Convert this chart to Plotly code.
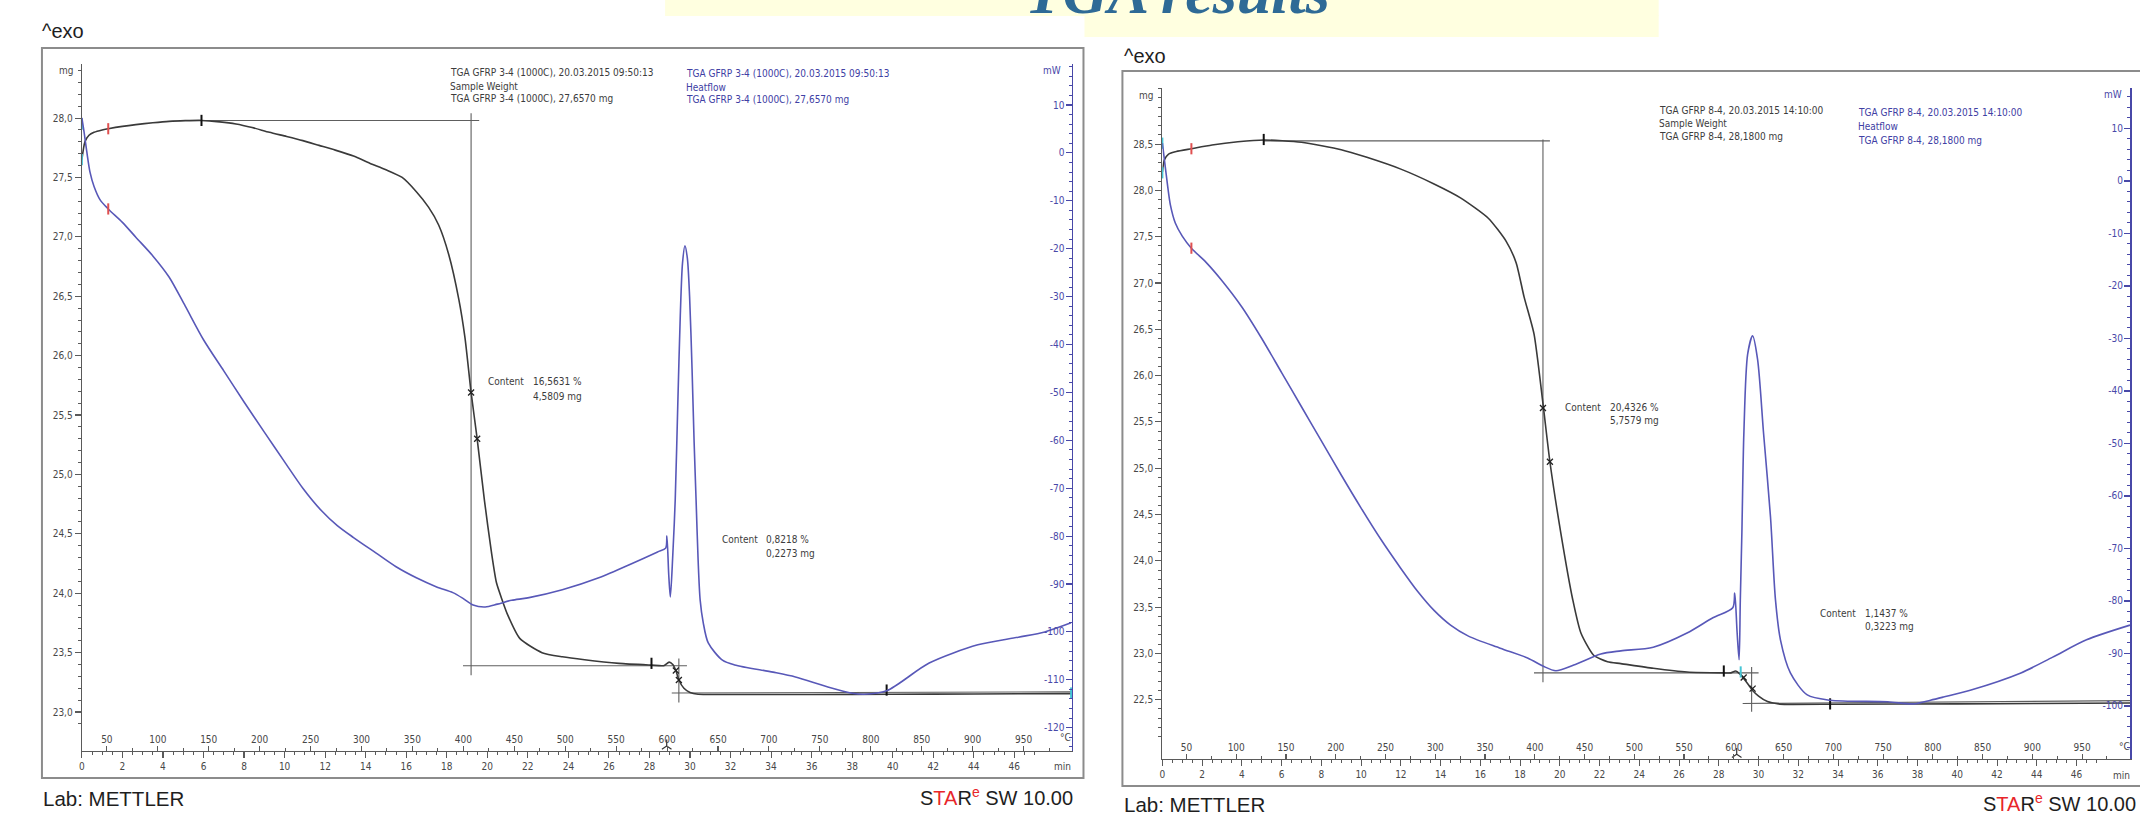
import plotly.graph_objects as go

W, H = 2140, 815
FONT = "DejaVu Sans Condensed, Liberation Sans Narrow, DejaVu Sans, sans-serif"
ARIAL = "Liberation Sans, Arial, sans-serif"
SERIF = "Liberation Serif, Times New Roman, serif"

# ------------------------------------------------------------------ data
time_ticks = [0, 2, 4, 6, 8, 10, 12, 14, 16, 18, 20, 22, 24, 26, 28, 30, 32, 34, 36, 38, 40, 42, 44, 46]
temp_ticks = [50, 100, 150, 200, 250, 300, 350, 400, 450, 500, 550, 600, 650, 700, 750, 800, 850, 900, 950]

# Panel A : TGA GFRP 3-4 (1000C)
a_tga_t = [0.0, 0.15, 0.35, 0.6, 1.0, 1.3, 2.0, 2.66, 3.5, 4.3, 5.1, 5.9, 6.8, 7.6, 8.4, 9.25, 10.1, 10.9,
           11.7, 12.5, 13.4, 14.2, 15.0, 15.8, 16.5, 17.1, 17.6, 18.1, 18.6, 18.9, 19.2, 19.5, 19.86, 20.2,
           20.45, 20.74, 21.0, 21.6, 22.7, 23.7, 24.8, 26.5, 28.1, 28.7, 28.97, 29.15, 29.3, 29.45, 29.7,
           30.0, 30.4, 32.0, 36.0, 40.0, 44.0, 48.8]
a_tga_mg = [27.65, 27.80, 27.855, 27.88, 27.90, 27.91, 27.93, 27.945, 27.96, 27.972, 27.978, 27.98, 27.968,
            27.95, 27.92, 27.88, 27.845, 27.81, 27.77, 27.73, 27.68, 27.62, 27.565, 27.50, 27.38, 27.25,
            27.10, 26.85, 26.47, 26.15, 25.69, 25.30, 24.78, 24.35, 24.09, 23.94, 23.82, 23.62, 23.50,
            23.465, 23.44, 23.41, 23.395, 23.39, 23.42, 23.40, 23.35, 23.27, 23.20, 23.165, 23.15, 23.148,
            23.148, 23.15, 23.152, 23.155]
a_hf_t = [0.0, 0.12, 0.25, 0.4, 0.6, 0.9, 1.3, 2.0, 2.66, 3.5, 4.3, 5.1, 6.0, 7.0, 8.0, 9.0, 10.0, 10.9,
          11.8, 12.6, 13.4, 14.5, 15.5, 16.5, 17.5, 18.3, 18.8, 19.3, 19.9, 20.5, 21.2, 22.0, 23.7, 25.5, 27.2,
          28.4, 28.8, 28.86, 28.95, 29.03, 29.15, 29.27, 29.4, 29.52, 29.63, 29.75, 29.87, 29.98, 30.1,
          30.2, 30.3, 30.4, 30.5, 30.65, 30.9, 31.6, 32.2, 34.1, 35.2, 36.8, 38.0, 38.6, 39.7, 41.8, 44.2,
          46.2, 47.5, 48.8]
a_hf_mw = [7.3, 4.0, 0.0, -4.0, -7.0, -9.8, -11.7, -14.5, -17.6, -21.5, -25.9, -32.0, -39.0, -45.5, -52.0,
           -58.3, -64.5, -70.0, -74.6, -77.8, -80.3, -83.5, -86.4, -88.7, -90.6, -91.8, -93.0, -94.4, -94.8,
           -94.2, -93.4, -92.9, -91.2, -88.7, -85.6, -83.3, -82.5, -80.0, -88.0, -92.7, -84.0, -72.5, -52.0,
           -34.0, -23.0, -19.4, -22.0, -30.0, -45.0, -60.0, -72.5, -85.0, -93.3, -98.0, -102.3, -105.9,
           -106.9, -108.4, -109.4, -111.5, -112.8, -113.0, -112.3, -106.5, -102.7, -101.1, -100.0, -98.1]
a_mg_ticks = [23.0, 23.5, 24.0, 24.5, 25.0, 25.5, 26.0, 26.5, 27.0, 27.5, 28.0]
a_mw_ticks = [10, 0, -10, -20, -30, -40, -50, -60, -70, -80, -90, -100, -110, -120]
# evaluation construction (time in min, mass in mg)
a_cons_t = [5.9, 19.6, None, 19.2, 19.2, None, 18.8, 29.85, None, 29.45, 29.45, None, 29.1, 48.82]
a_cons_mg = [27.98, 27.98, None, 28.04, 23.31, None, 23.39, 23.39, None, 23.45, 23.08, None, 23.16, 23.17]
a_cross_t = [19.2, 19.5, 29.3, 29.45]
a_cross_mg = [25.69, 25.30, 23.35, 23.27]
a_evt_t = [5.9, 28.1, 39.7]
a_evt_mg = [27.98, 23.41, 23.185]
a_red_t = [1.3]
a_red_mg = [27.91]
a_red_mw = [-11.7]
a_cyan_t = [0.0, 0.0, 48.8]
a_cyan_mg = [27.95, 27.65, 23.16]
a_T0, a_rate = 25.5, 19.9
a_content = [("Content", "16,5631 %", "4,5809 mg"), ("Content", "0,8218 %", "0,2273 mg")]
a_legend_k = ["TGA GFRP 3-4 (1000C), 20.03.2015 09:50:13", "Sample Weight", "TGA GFRP 3-4 (1000C), 27,6570 mg"]
a_legend_b = ["TGA GFRP 3-4 (1000C), 20.03.2015 09:50:13", "Heatflow", "TGA GFRP 3-4 (1000C), 27,6570 mg"]

# Panel B : TGA GFRP 8-4
b_tga_t = [0.0, 0.1, 0.3, 0.7, 1.46, 2.5, 3.8, 5.1, 7.0, 9.0, 10.25, 12.0, 13.67, 15.0, 16.4, 17.3, 17.8,
           18.2, 18.7, 19.15, 19.5, 20.05, 20.65, 21.06, 21.7, 22.4, 23.07, 24.7, 26.4, 28.25, 28.6, 28.85,
           29.05, 29.25, 29.5, 29.7, 30.0, 30.45, 31.0, 31.45, 34.0, 40.0, 44.0, 48.69]
b_tga_mg = [28.20, 28.33, 28.39, 28.42, 28.45, 28.49, 28.525, 28.545, 28.52, 28.44, 28.36, 28.23, 28.07,
            27.92, 27.70, 27.45, 27.22, 26.85, 26.45, 25.70, 25.07, 24.30, 23.58, 23.22, 22.98, 22.91,
            22.89, 22.84, 22.80, 22.79, 22.79, 22.81, 22.78, 22.73, 22.66, 22.60, 22.54, 22.48, 22.455,
            22.45, 22.452, 22.455, 22.46, 22.465]
b_hf_t = [0.0, 0.12, 0.25, 0.4, 0.65, 1.0, 1.46, 2.2, 3.0, 4.0, 5.0, 6.0, 7.0, 8.0, 9.0, 10.0, 11.0, 12.0,
          12.85, 13.67, 14.5, 15.4, 17.0, 18.4, 19.15, 19.8, 20.7, 22.06, 23.07, 24.7, 26.4, 27.7, 28.7, 28.8,
          28.92, 29.02, 29.08, 29.16, 29.26, 29.45, 29.7, 29.95, 30.25, 30.6, 30.85, 31.1, 31.6, 32.45,
          33.6, 36.5, 37.8, 38.65, 39.3, 40.65, 43.2, 44.8, 46.5, 48.69]
b_hf_mw = [7.2, 3.5, -0.5, -4.5, -8.0, -10.5, -12.8, -15.5, -19.0, -24.0, -30.0, -36.5, -43.0, -49.5,
           -56.0, -62.3, -68.3, -73.8, -78.2, -81.8, -84.6, -86.7, -89.0, -90.9, -92.4, -93.3, -92.2, -90.1,
           -89.5, -88.8, -86.1, -83.2, -81.3, -78.5, -86.0, -91.2, -80.0, -67.0, -48.0, -33.0, -29.5, -34.0,
           -48.0, -64.0, -79.8, -87.4, -93.7, -97.9, -98.9, -99.2, -99.6, -98.9, -98.3, -97.0, -93.7, -90.7,
           -87.4, -84.6]
b_mg_ticks = [22.0, 22.5, 23.0, 23.5, 24.0, 24.5, 25.0, 25.5, 26.0, 26.5, 27.0, 27.5, 28.0, 28.5]
b_mw_ticks = [10, 0, -10, -20, -30, -40, -50, -60, -70, -80, -90, -100, -110]
b_cons_t = [5.1, 19.5, None, 19.15, 19.15, None, 18.7, 30.0, None, 29.65, 29.65, None, 29.2, 48.69]
b_cons_mg = [28.535, 28.535, None, 28.55, 22.69, None, 22.79, 22.79, None, 22.853, 22.37, None, 22.46, 22.49]
b_cross_t = [19.15, 19.5, 29.25, 29.7]
b_cross_mg = [25.65, 25.07, 22.74, 22.62]
b_evt_t = [5.1, 28.25, 33.6]
b_evt_mg = [28.55, 22.81, 22.455]
b_red_t = [1.46]
b_red_mg = [28.45]
b_red_mw = [-12.8]
b_cyan_t = [0.0, 0.0, 29.1]
b_cyan_mg = [28.51, 28.19, 22.80]
b_T0, b_rate = 25.8, 19.97
b_content = [("Content", "20,4326 %", "5,7579 mg"), ("Content", "1,1437 %", "0,3223 mg")]
b_legend_k = ["TGA GFRP 8-4, 20.03.2015 14:10:00", "Sample Weight", "TGA GFRP 8-4, 28,1800 mg"]
b_legend_b = ["TGA GFRP 8-4, 20.03.2015 14:10:00", "Heatflow", "TGA GFRP 8-4, 28,1800 mg"]

# ------------------------------------------------------------------ style
K_CURVE = "#3a3a3a"
B_CURVE = "#5858b8"
B_AXIS = "#4848a8"
G_AXIS = "#5a5a5a"
G_TXT = "#474747"
CONS = "#5e5e5e"


def fx(px):
    return px / W


def fy(py):
    return 1 - py / H


def comma(v):
    return f"{v:.1f}".replace(".", ",")


fig = go.Figure()


def add_panel(xa, xt, ym, yw, tga_t, tga_mg, hf_t, hf_mw, cons_t, cons_mg, cross_t, cross_mg,
              evt_t, evt_mg, red_t, red_mg, red_mw, cyan_t, cyan_mg, temp_lo, temp_hi, mg_lo, psi_t):
    fig.add_trace(go.Scatter(x=[temp_lo, temp_hi], y=[mg_lo, mg_lo], mode="none", xaxis=xt, yaxis=ym,
                             hoverinfo="skip", showlegend=False))
    fig.add_trace(go.Scatter(x=cons_t, y=cons_mg, mode="lines", xaxis=xa, yaxis=ym,
                             line=dict(color=CONS, width=1.1), connectgaps=False, hoverinfo="skip"))
    fig.add_trace(go.Scatter(x=hf_t, y=hf_mw, mode="lines", xaxis=xa, yaxis=yw,
                             line=dict(color=B_CURVE, width=1.6, shape="spline", smoothing=0.8),
                             hoverinfo="skip"))
    fig.add_trace(go.Scatter(x=tga_t, y=tga_mg, mode="lines", xaxis=xa, yaxis=ym,
                             line=dict(color=K_CURVE, width=1.6, shape="spline", smoothing=0.6),
                             hoverinfo="skip"))
    fig.add_trace(go.Scatter(x=cross_t, y=cross_mg, mode="markers", xaxis=xa, yaxis=ym, cliponaxis=False,
                             marker=dict(symbol="x-thin", size=6, line=dict(color="#222", width=1.3)),
                             hoverinfo="skip"))
    fig.add_trace(go.Scatter(x=evt_t, y=evt_mg, mode="markers", xaxis=xa, yaxis=ym, cliponaxis=False,
                             marker=dict(symbol="line-ns", size=8, line=dict(color="#111", width=2)),
                             hoverinfo="skip"))
    fig.add_trace(go.Scatter(x=red_t, y=red_mg, mode="markers", xaxis=xa, yaxis=ym, cliponaxis=False,
                             marker=dict(symbol="line-ns", size=8, line=dict(color="#e05050", width=2)),
                             hoverinfo="skip"))
    fig.add_trace(go.Scatter(x=red_t, y=red_mw, mode="markers", xaxis=xa, yaxis=yw, cliponaxis=False,
                             marker=dict(symbol="line-ns", size=8, line=dict(color="#e05050", width=2)),
                             hoverinfo="skip"))
    fig.add_trace(go.Scatter(x=cyan_t, y=cyan_mg, mode="markers", xaxis=xa, yaxis=ym, cliponaxis=False,
                             marker=dict(symbol="line-ns", size=8, line=dict(color="#46c6d6", width=2)),
                             hoverinfo="skip"))
    fig.add_trace(go.Scatter(x=[psi_t], y=[mg_lo], mode="markers", xaxis=xa, yaxis=ym, cliponaxis=False,
                             marker=dict(symbol="y-up", size=8, line=dict(color="#333", width=1.2)),
                             hoverinfo="skip"))


def time_axis(dom, rng, anchor):
    return dict(domain=dom, range=rng, anchor=anchor, showgrid=False, zeroline=False, showline=True,
                linecolor=G_AXIS, linewidth=1.2, ticks="outside", ticklen=6, tickwidth=1.1, tickcolor=G_AXIS,
                tickmode="array", tickvals=time_ticks, ticktext=[str(v) for v in time_ticks],
                tickfont=dict(family=FONT, size=10, color=G_TXT),
                minor=dict(ticks="outside", ticklen=3, tickmode="linear", tick0=0, dtick=0.5,
                           tickcolor=G_AXIS, tickwidth=1))


def temp_axis(over, rng, anchor):
    return dict(overlaying=over, range=rng, anchor=anchor, side="bottom", showgrid=False, zeroline=False,
                showline=False, ticks="inside", ticklen=5, tickwidth=1.1, tickcolor=G_AXIS,
                ticklabelposition="inside", tickmode="array", tickvals=temp_ticks,
                ticktext=[str(v) for v in temp_ticks], tickfont=dict(family=FONT, size=10, color=G_TXT),
                minor=dict(ticks="inside", ticklen=3, tickmode="linear", tick0=0, dtick=25,
                           tickcolor=G_AXIS, tickwidth=1))


def mg_axis(dom, rng, anchor, ticks):
    return dict(domain=dom, range=rng, anchor=anchor, showgrid=False, zeroline=False, showline=True,
                linecolor=G_AXIS, linewidth=1.2, ticks="outside", ticklen=6, tickwidth=1.1, tickcolor=G_AXIS,
                tickmode="array", tickvals=ticks, ticktext=[comma(v) for v in ticks],
                tickfont=dict(family=FONT, size=10, color=G_TXT),
                minor=dict(ticks="outside", ticklen=3, tickmode="linear", tick0=0, dtick=0.1,
                           tickcolor=G_AXIS, tickwidth=1))


def mw_axis(over, rng, anchor, ticks):
    return dict(overlaying=over, range=rng, anchor=anchor, side="right", showgrid=False, zeroline=False,
                showline=True, linecolor=B_AXIS, linewidth=1.5, ticks="inside", ticklen=6, tickwidth=1.1,
                tickcolor=B_AXIS, ticklabelposition="inside", tickmode="array", tickvals=ticks,
                ticktext=[str(v) for v in ticks], tickfont=dict(family=FONT, size=10, color=B_AXIS),
                minor=dict(ticks="inside", ticklen=3, tickmode="linear", tick0=0, dtick=2,
                           tickcolor=B_AXIS, tickwidth=1))


a_xr = [0, 48.82]
b_xr = [0, 48.69]
a_mgr = [22.672, 28.455]
b_mgr = [21.86, 29.106]

add_panel("x", "x2", "y", "y2", a_tga_t, a_tga_mg, a_hf_t, a_hf_mw, a_cons_t, a_cons_mg, a_cross_t,
          a_cross_mg, a_evt_t, a_evt_mg, a_red_t, a_red_mg, a_red_mw, a_cyan_t, a_cyan_mg,
          a_T0 + a_rate * a_xr[0], a_T0 + a_rate * a_xr[1], 22.714, 28.85)
add_panel("x3", "x4", "y3", "y4", b_tga_t, b_tga_mg, b_hf_t, b_hf_mw, b_cons_t, b_cons_mg, b_cross_t,
          b_cross_mg, b_evt_t, b_evt_mg, b_red_t, b_red_mg, b_red_mw, b_cyan_t, b_cyan_mg,
          b_T0 + b_rate * b_xr[0], b_T0 + b_rate * b_xr[1], 21.91, 28.9)

layout = dict(
    xaxis=time_axis([fx(79), fx(1070)], a_xr, "y"),
    xaxis2=temp_axis("x", [a_T0 + a_rate * a_xr[0], a_T0 + a_rate * a_xr[1]], "y"),
    yaxis=mg_axis([fy(751), fy(64)], a_mgr, "x", a_mg_ticks),
    yaxis2=mw_axis("y", [-124.86, 18.56], "x", a_mw_ticks),
    xaxis3=time_axis([fx(1161), fx(2130)], b_xr, "y3"),
    xaxis4=temp_axis("x3", [b_T0 + b_rate * b_xr[0], b_T0 + b_rate * b_xr[1]], "y3"),
    yaxis3=mg_axis([fy(759), fy(88)], b_mgr, "x3", b_mg_ticks),
    yaxis4=mw_axis("y3", [-110.1, 17.71], "x3", b_mw_ticks),
)


def note(x, y, text, size=10, color=G_TXT, xanchor="left", family=FONT):
    return dict(xref="paper", yref="paper", x=fx(x), y=fy(y), text=text, showarrow=False,
                xanchor=xanchor, yanchor="middle", font=dict(family=family, size=size, color=color),
                borderpad=0)


ann = []
# title
ann.append(note(1176, -8, "<b><i>TGA results</i></b>", size=62, color="#2E6A96", xanchor="center", family=SERIF))
# ^exo
ann.append(note(38, 31, "^exo", size=20, color="#1e1e1e", family=ARIAL))
ann.append(note(1122, 56, "^exo", size=20, color="#1e1e1e", family=ARIAL))
# legends
for i, (yk, yb) in enumerate(zip([72, 86, 99], [73, 87, 100])):
    ann.append(note(447, yk, a_legend_k[i], color="#3c3c3c"))
    ann.append(note(683, yb, a_legend_b[i], color="#4040a4"))
for i, (yk, yb) in enumerate(zip([110, 123, 136], [113, 127, 140])):
    ann.append(note(1657, yk, b_legend_k[i], color="#3c3c3c"))
    ann.append(note(1857, yb, b_legend_b[i], color="#4040a4"))
# content labels
for (c, p, m), (x0, x1, y0, y1) in zip(a_content, [(485, 530, 382, 396), (719, 763, 539, 553)]):
    ann.append(note(x0, y0, c, color="#3c3c3c"))
    ann.append(note(x1, y0, p, color="#3c3c3c"))
    ann.append(note(x1, y1, m, color="#3c3c3c"))
for (c, p, m), (x0, x1, y0, y1) in zip(b_content, [(1563, 1608, 407, 420), (1819, 1864, 613, 626)]):
    ann.append(note(x0, y0, c, color="#3c3c3c"))
    ann.append(note(x1, y0, p, color="#3c3c3c"))
    ann.append(note(x1, y1, m, color="#3c3c3c"))
# axis units
ann.append(note(71, 71, "mg", xanchor="right"))
ann.append(note(1153, 95, "mg", xanchor="right"))
ann.append(note(1060, 71, "mW", xanchor="right", color=B_AXIS))
ann.append(note(2123, 94, "mW", xanchor="right", color=B_AXIS))
ann.append(note(1070, 766, "min", xanchor="right"))
ann.append(note(2131, 775, "min", xanchor="right"))
ann.append(note(1070, 737, "°C", xanchor="right"))
ann.append(note(2131, 746, "°C", xanchor="right"))
# footer
ann.append(note(39, 798, "Lab: METTLER", size=20.5, color="#1e1e1e", family=ARIAL))
ann.append(note(1122, 804, "Lab: METTLER", size=20.5, color="#1e1e1e", family=ARIAL))
star = ('<span style="color:#1e1e1e">S</span><span style="color:#e8262a">TA</span>'
        '<span style="color:#1e1e1e">R</span><sup><span style="color:#e8262a">e</span></sup>'
        '<span style="color:#1e1e1e"> SW 10.00</span>')
ann.append(note(1073, 796, star, size=20, family=ARIAL, xanchor="right"))
ann.append(note(2137, 802, star, size=20, family=ARIAL, xanchor="right"))

shapes = [
    dict(type="rect", xref="paper", yref="paper", x0=fx(663), x1=fx(1658), y0=fy(16), y1=fy(-2),
         fillcolor="#FFFFE0", line=dict(width=0), layer="below"),
    dict(type="rect", xref="paper", yref="paper", x0=fx(1083), x1=fx(1658), y0=fy(37), y1=fy(15),
         fillcolor="#FFFFE0", line=dict(width=0), layer="below"),
    dict(type="rect", xref="paper", yref="paper", x0=fx(39), x1=fx(1082), y0=fy(778), y1=fy(48),
         line=dict(color="#8c8c8c", width=2)),
    dict(type="rect", xref="paper", yref="paper", x0=fx(1121), x1=fx(2160), y0=fy(786), y1=fy(71),
         line=dict(color="#8c8c8c", width=2)),
]

fig.update_layout(**layout)
fig.update_layout(width=W, height=H, autosize=False, margin=dict(l=0, r=0, t=0, b=0),
                  paper_bgcolor="white", plot_bgcolor="rgba(0,0,0,0)", showlegend=False,
                  hovermode=False, annotations=ann, shapes=shapes)

# remove the browser's default 8px page margin so the figure sits at the window origin
fig.write_html("out.html", config={"displayModeBar": False, "staticPlot": True},
               post_script="document.body.style.margin='0px';document.body.style.overflow='hidden';")
